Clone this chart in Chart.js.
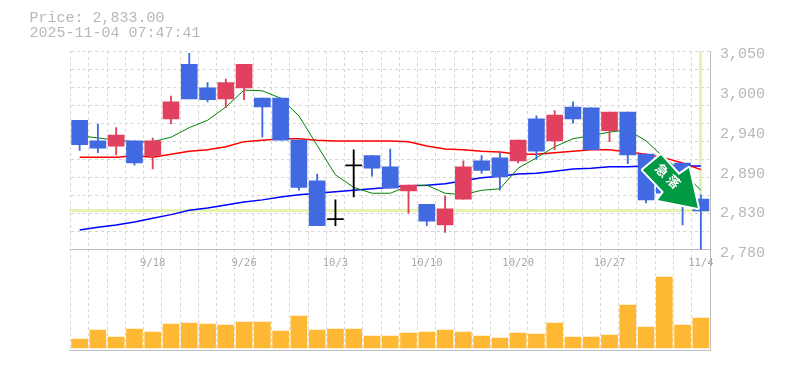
<!DOCTYPE html>
<html>
<head>
<meta charset="utf-8">
<title>Price chart</title>
<script src="https://cdn.jsdelivr.net/npm/chart.js@4"></script>
<style>
  body { margin: 0; background: #fff; }
  canvas { display: block; }
</style>
</head>
<body>
<canvas id="priceChart" width="785" height="370"></canvas>
<script>
// Chart data
const dates = ["9/11","9/12","9/16","9/17","9/18","9/19","9/22","9/24","9/25","9/26","9/29","9/30","10/1","10/2","10/3","10/6","10/7","10/8","10/9","10/10","10/14","10/15","10/16","10/17","10/20","10/21","10/22","10/23","10/24","10/27","10/28","10/29","10/30","10/31","11/4"]
const shownDates = ["9/18","9/26","10/3","10/10","10/20","10/27","11/4"]
const opens  = [2956,2928,2921,2928,2908,2958,3032,3000,2985,3000,2986,2986,2929,2874,2821,2894,2908,2893,2860,2842,2814,2849,2901,2905,2901,2958,2928,2974,2973,2942,2967,2910,2895,2898,2849]
const closes = [2923,2918,2936,2898,2928,2981,2985,2984,3007,3032,2974,2929,2865,2813,2821,2894,2891,2864,2868,2819,2836,2893,2888,2879,2929,2914,2963,2958,2916,2967,2909,2848,2857,2842,2833]
const highs  = [2956,2951,2946,2928,2932,2989,3047,3007,3012,3032,2986,2986,2929,2883,2848,2916,2908,2917,2868,2842,2853,2901,2908,2912,2929,2962,2969,2981,2973,2967,2967,2910,2895,2898,2855]
const lows   = [2915,2912,2909,2895,2890,2951,2985,2981,2973,2984,2933,2929,2861,2813,2813,2852,2880,2864,2830,2813,2804,2849,2884,2861,2898,2903,2916,2952,2916,2927,2897,2844,2857,2814,2781]
const volumes = [9,18,11,19,16,24,25,24,23,26,26,17,32,18,19,19,12,12,15,16,18,16,12,10,15,14,25,11,11,13,43,21,71,23,30]
const maShort = [2935,2932,2929,2927,2927,2933,2946,2956,2974,2997,2996,2986,2962,2922,2882,2865,2857,2857,2867,2868,2857,2855,2861,2863,2891,2905,2920,2931,2935,2940,2943,2928,2905,2886,2861]
const maMid   = [2906,2906,2906,2908,2906,2910,2914,2916,2920,2927,2929,2931,2931,2929,2928,2928,2928,2928,2927,2921,2917,2916,2914,2913,2910,2910,2912,2914,2916,2916,2913,2910,2905,2898,2889]
const maLong  = [2807,2811,2814,2818,2823,2828,2834,2837,2841,2845,2848,2852,2855,2857,2859,2861,2863,2865,2867,2868,2870,2874,2878,2880,2883,2884,2887,2890,2891,2893,2893,2894,2894,2894,2894]
const priceLabels = ["3,050","3,000","2,940","2,890","2,830","2,780"]
const priceLabelValues = [3045.5,2991.5,2937.5,2883.5,2829.5,2775.5]
const gridValues = [3050,3025.5,3001,2976,2952,2927,2903,2878,2854,2829,2805,2780]
const lastPrice = 2833
const priceText = "Price: 2,833.00"
const timeText = "2025-11-04 07:47:41"

const UP = "#e2405f", DOWN = "#4169e1", FLAT = "#000000"
const GRID = "#d6d6d6", AXIS = "#bdbdbd", TEXT = "#b8b8b8", LIME = "#e4f4ae"
const MONO = '"Liberation Mono", monospace'

const candleColors = opens.map((o, i) => closes[i] > o ? UP : closes[i] < o ? DOWN : FLAT)

// Lime cross at the last price, under the candles, plus the bottom frame line
const backdropPlugin = {
  id: "backdrop",
  beforeDatasetsDraw(chart) {
    const { ctx, chartArea, scales } = chart
    const y = Math.floor(scales.y.getPixelForValue(lastPrice)) + 0.5
    const x = Math.floor(scales.x.getPixelForValue(dates.length - 1)) + 0.5
    ctx.save()
    ctx.strokeStyle = LIME
    ctx.lineWidth = 3
    ctx.beginPath()
    ctx.moveTo(chartArea.left - 1, y)
    ctx.lineTo(chartArea.right, y)
    ctx.moveTo(x, chartArea.top)
    ctx.lineTo(x, y)
    ctx.stroke()
    ctx.strokeStyle = AXIS
    ctx.lineWidth = 1
    ctx.beginPath()
    ctx.moveTo(chartArea.left - 1, chartArea.bottom + 0.5)
    ctx.lineTo(chartArea.right, chartArea.bottom + 0.5)
    ctx.stroke()
    ctx.restore()
  }
}

// Green down arrow badge next to the last candles, and the header text
const overlayPlugin = {
  id: "overlay",
  afterDraw(chart) {
    const { ctx, scales } = chart
    const tipX = scales.x.getPixelForValue(dates.length - 1) - 3
    const tipY = scales.y.getPixelForValue(lastPrice) - 3
    const shape = [[-37,-53],[-55,-38],[-34,-16],[-40,-8],[0,0],[-9,-40],[-19,-33]]
    ctx.save()
    ctx.lineJoin = "round"
    ctx.beginPath()
    shape.forEach(([dx, dy], i) => i ? ctx.lineTo(tipX + dx, tipY + dy) : ctx.moveTo(tipX + dx, tipY + dy))
    ctx.closePath()
    ctx.strokeStyle = "#ffffff"
    ctx.lineWidth = 4
    ctx.stroke()
    ctx.fillStyle = "#009944"
    ctx.fill()
    ctx.translate(tipX - 30, tipY - 32)
    ctx.rotate(Math.PI / 4)
    ctx.fillStyle = "#ffffff"
    ctx.font = 'bold 13px "Noto Sans CJK JP"'
    ctx.textAlign = "center"
    ctx.textBaseline = "middle"
    ctx.fillText("急", -8, 0)
    ctx.fillText("落", 8, 0)
    ctx.restore()

    ctx.save()
    ctx.fillStyle = TEXT
    ctx.font = "15px " + MONO
    ctx.textBaseline = "middle"
    ctx.fillText(priceText, 29.5, 18)
    ctx.fillText(timeText, 29.5, 33)
    ctx.restore()
  }
}

new Chart(document.getElementById("priceChart"), {
  type: "bar",
  data: {
    labels: dates,
    datasets: [
      { type: "line", data: maLong, yAxisID: "y", borderColor: "#0000ff", borderWidth: 1.5, pointRadius: 0, tension: 0, order: 5 },
      { type: "line", data: maMid, yAxisID: "y", borderColor: "#ff0000", borderWidth: 1.5, pointRadius: 0, tension: 0, order: 4 },
      { type: "line", data: maShort, yAxisID: "y", borderColor: "#008000", borderWidth: 1, pointRadius: 0, tension: 0, order: 3 },
      { data: lows.map((l, i) => [l, highs[i]]), yAxisID: "y", grouped: false, barThickness: 1.2, backgroundColor: candleColors, order: 2 },
      { data: opens.map((o, i) => [o, closes[i]]), yAxisID: "y", grouped: false, barThickness: 16, minBarLength: 1.2, backgroundColor: candleColors, order: 1 },
      { data: volumes, yAxisID: "yVolume", grouped: false, barThickness: 16, backgroundColor: "#ffb833", order: 1 }
    ]
  },
  options: {
    responsive: false,
    animation: false,
    layout: { padding: { left: 70.5, top: 51, bottom: 20, right: 0 } },
    plugins: { legend: { display: false }, tooltip: { enabled: false } },
    scales: {
      x: {
        type: "category",
        offset: true,
        position: { y: 2780 },
        grid: { offset: true, color: GRID, drawTicks: false },
        border: { color: AXIS, dash: [3, 3] },
        ticks: {
          autoSkip: false,
          maxRotation: 0,
          padding: 7,
          color: "#a8a8a8",
          font: { family: '"DejaVu Sans Mono", monospace', size: 10.5 },
          callback(value) {
            const d = dates[value]
            return shownDates.includes(d) ? d : ""
          }
        }
      },
      y: {
        position: "right",
        min: 2644.3,
        max: 3050,
        grid: { display: false, drawTicks: false },
        border: { color: AXIS },
        afterBuildTicks(scale) { scale.ticks = priceLabelValues.map(value => ({ value })) },
        afterFit(scale) { scale.width = 75 },
        ticks: {
          autoSkip: false,
          padding: 10,
          color: TEXT,
          font: { family: MONO, size: 15 },
          callback(value) { return priceLabels[priceLabelValues.indexOf(value)] }
        }
      },
      yGrid: {
        position: "left",
        min: 2644.3,
        max: 3050,
        grid: { color: GRID, drawTicks: false },
        border: { display: false, dash: [3, 3] },
        afterBuildTicks(scale) { scale.ticks = gridValues.map(value => ({ value })) },
        afterFit(scale) { scale.width = 0 },
        ticks: { display: false }
      },
      yVolume: {
        display: false,
        min: -2,
        max: 297
      }
    }
  },
  plugins: [backdropPlugin, overlayPlugin]
})
</script>
</body>
</html>
